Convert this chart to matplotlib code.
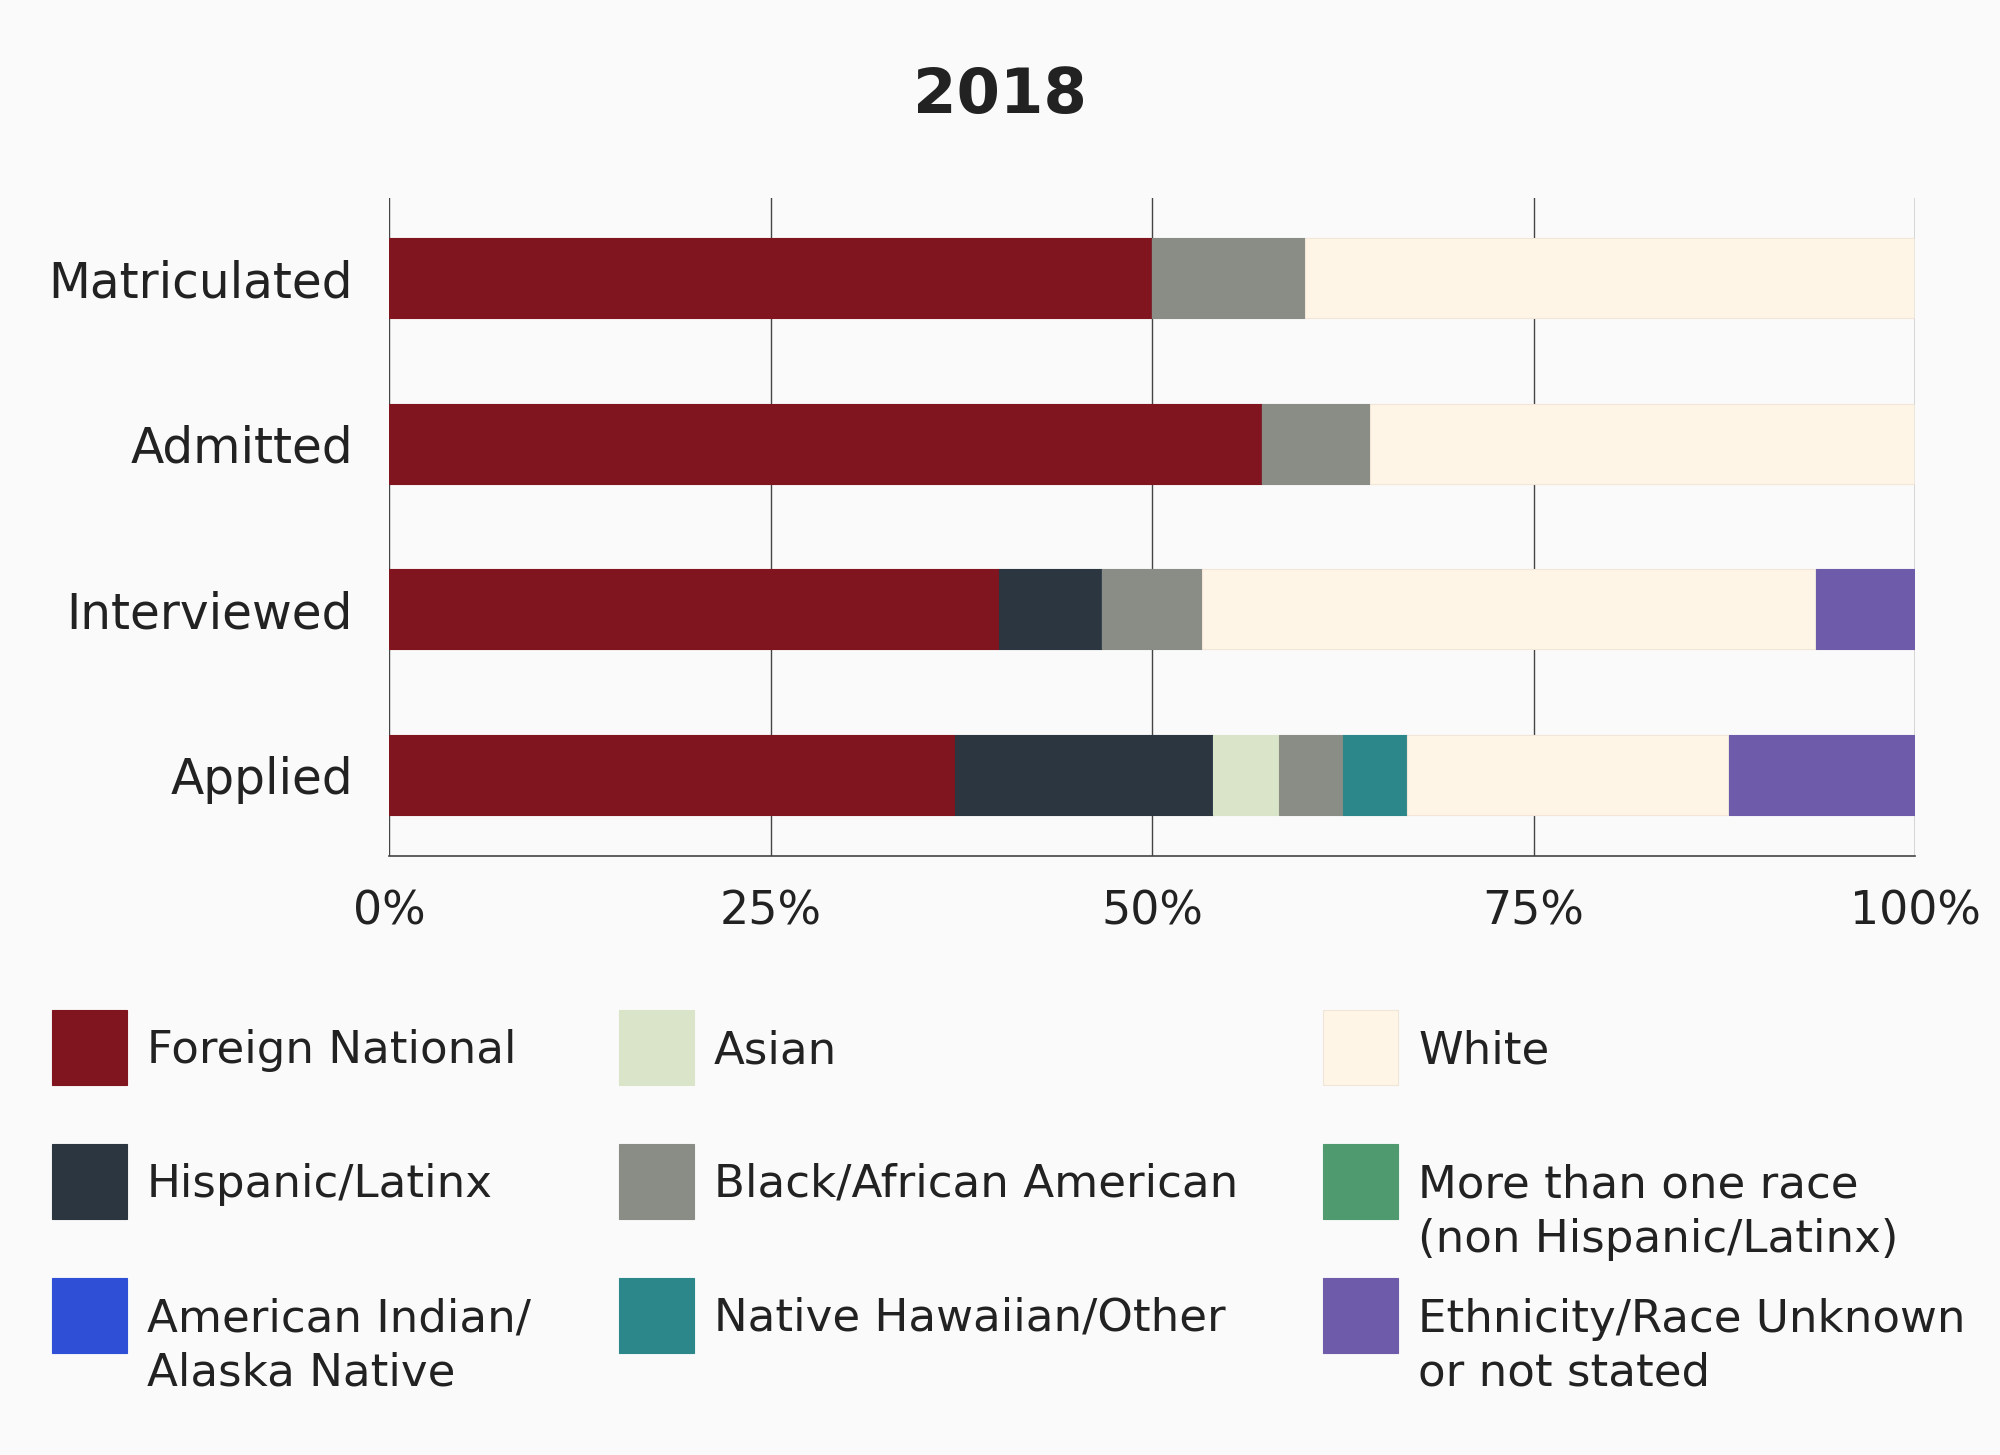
import matplotlib
matplotlib.use("Agg")
import matplotlib.pyplot as plt
from matplotlib.patches import Rectangle

plt.rcParams['font.family'] = ['DejaVu Sans']

stages = ["Applied", "Interviewed", "Admitted", "Matriculated"]
groups = ["Foreign National", "Hispanic/Latinx", "American Indian/\nAlaska Native",
          "Asian", "Black/African American", "Native Hawaiian/Other",
          "White", "More than one race\n(non Hispanic/Latinx)",
          "Ethnicity/Race Unknown\nor not stated"]
colors = ["#80141F", "#2C3640", "#2F4FD6", "#DAE4C9", "#8A8D85", "#2C878A",
          "#FEF5E7", "#4F9A6E", "#6E5BAA"]
# percentages per group, order of stages: Applied, Interviewed, Admitted, Matriculated
foreign = [37.1, 40.0, 57.2, 50.0]
hispanic = [16.9, 6.7, 0.0, 0.0]
amind = [0.0, 0.0, 0.0, 0.0]
asian = [4.3, 0.0, 0.0, 0.0]
black = [4.2, 6.6, 7.1, 10.0]
nhaw = [4.2, 0.0, 0.0, 0.0]
white = [21.1, 40.2, 35.7, 40.0]
multi = [0.0, 0.0, 0.0, 0.0]
unknown = [12.2, 6.5, 0.0, 0.0]
series = [foreign, hispanic, amind, asian, black, nhaw, white, multi, unknown]
xticks = [0, 25, 50, 75, 100]
xticklabels = ["0%", "25%", "50%", "75%", "100%"]

bg = "#FAFAFA"
txt = "#222222"
fig = plt.figure(figsize=(20, 14.55), dpi=100, facecolor=bg)
ax = fig.add_axes([0.1945, 0.4117, 0.763, 0.4522], facecolor=bg)

ypos = list(range(len(stages)))
left = [0.0] * len(stages)
for vals, col in zip(series, colors):
    edge = "#F3E6D6" if col == "#FEF5E7" else col
    ax.barh(ypos, vals, left=left, height=0.485, color=col, zorder=3,
            edgecolor=edge, linewidth=0.8)
    left = [l + v for l, v in zip(left, vals)]

ax.set_xlim(0, 100)
ax.set_ylim(-0.49, 3.485)
ax.set_xticks(xticks)
ax.set_xticklabels(xticklabels)
ax.set_yticks(ypos)
ax.set_yticklabels(stages)
ax.tick_params(axis='both', length=0, colors=txt)
ax.tick_params(axis='y', pad=26, labelsize=35)
ax.tick_params(axis='x', pad=24, labelsize=33)
ax.grid(axis='x', color="#444444", linewidth=1.0, zorder=1)
for s in ['top', 'right', 'left']:
    ax.spines[s].set_visible(False)
ax.spines['bottom'].set_color("#444444")
ax.spines['bottom'].set_linewidth(1.2)

fig.text(0.5, 0.934, "2018", ha='center', va='center', fontsize=45,
         fontweight='bold', color=txt)

# legend (column-major)
col_x = [52, 619, 1323]
text_x = [147, 714, 1418]
row_y = [1048, 1182, 1316]
W, H = 2000, 1455
pitch = 55
for i, (g, c) in enumerate(zip(groups, colors)):
    ci, ri = i // 3, i % 3
    cx, cy = col_x[ci], row_y[ri]
    edge = "#EFE6D8" if c == "#FEF5E7" else c
    fig.add_artist(Rectangle(((cx) / W, 1 - (cy + 37) / H), 75 / W, 75 / H,
                             transform=fig.transFigure, facecolor=c,
                             edgecolor=edge, linewidth=0.8))
    n = g.count("\n")
    fig.text(text_x[ci] / W, 1 - (cy + 15 + n * pitch) / H, g, ha='left',
             va='baseline', fontsize=32.5, color=txt, linespacing=1.33)

fig.savefig("out.png", dpi=100, facecolor=bg)
